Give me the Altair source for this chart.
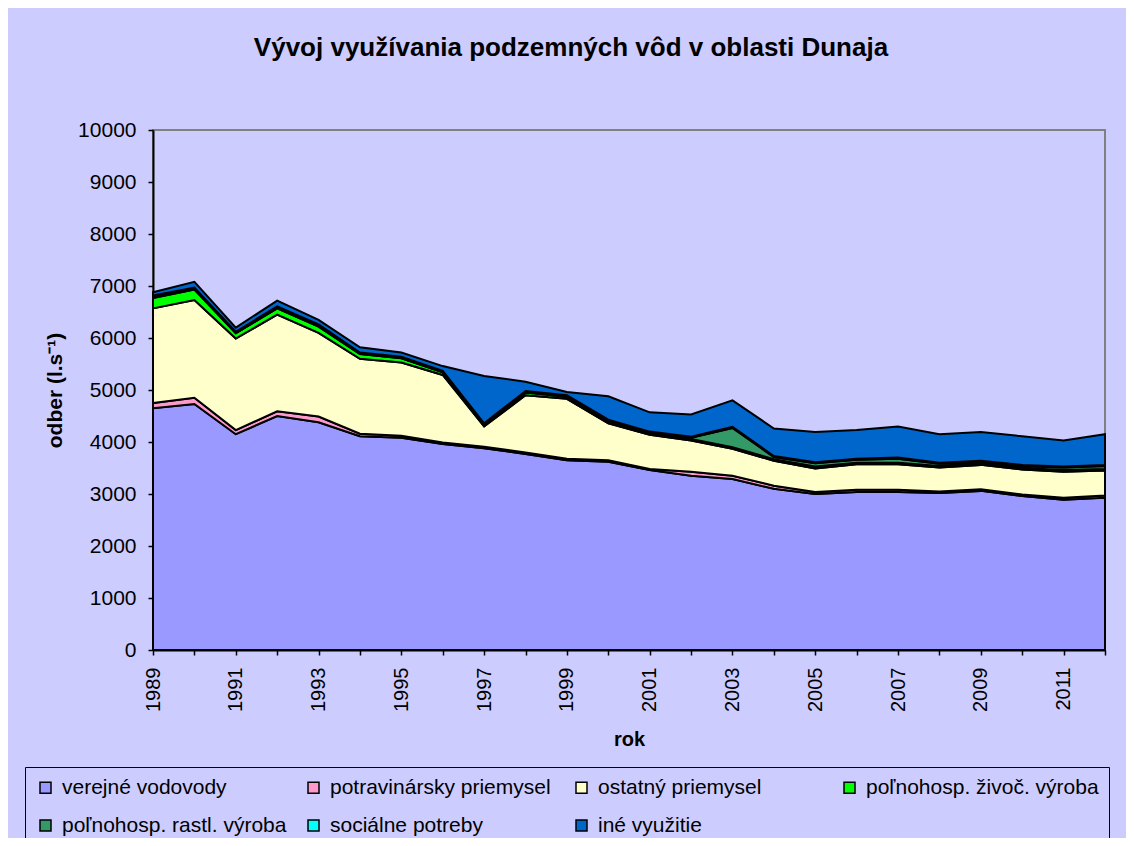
import altair as alt
import pandas as pd

years = list(range(1989, 2013))

series_names = [
    "verejné vodovody",
    "potravinársky priemysel",
    "ostatný priemysel",
    "poľnohosp. živoč. výroba",
    "poľnohosp. rastl. výroba",
    "sociálne potreby",
    "iné využitie",
]
series_colors = ["#9999FF", "#FF99CC", "#FFFFCC", "#00FF00", "#339966", "#00FFFF", "#0066CC"]

verejne_vodovody = [4650, 4730, 4150, 4500, 4380, 4110, 4080, 3960, 3880, 3770, 3650, 3620,
                    3460, 3350, 3290, 3100, 3000, 3040, 3040, 3020, 3060, 2960, 2890, 2930]
potravinarsky = [100, 120, 80, 90, 110, 50, 40, 30, 30, 30, 30, 30,
                 20, 80, 60, 60, 40, 40, 40, 30, 30, 30, 40, 40]
ostatny = [1820, 1880, 1760, 1860, 1610, 1440, 1410, 1300, 390, 1100, 1150, 710,
           660, 600, 520, 480, 450, 490, 490, 460, 470, 480, 500, 480]
zivocisna = [200, 200, 100, 120, 120, 90, 80, 50, 30, 50, 40, 40,
             30, 30, 30, 30, 40, 30, 30, 30, 30, 30, 30, 30]
rastlinna = [30, 20, 10, 20, 20, 10, 10, 10, 10, 10, 10, 10,
             10, 20, 370, 40, 60, 60, 80, 40, 30, 40, 50, 60]
socialne = [20, 20, 20, 20, 20, 20, 20, 20, 20, 20, 20, 20,
            20, 20, 20, 20, 20, 20, 20, 20, 20, 20, 20, 20]
ine = [60, 110, 80, 110, 90, 100, 80, 90, 910, 180, 60, 450,
       370, 430, 510, 530, 580, 550, 600, 550, 550, 550, 500, 590]

all_series = [verejne_vodovody, potravinarsky, ostatny, zivocisna, rastlinna, socialne, ine]

rows = []
for idx, (name, vals) in enumerate(zip(series_names, all_series)):
    for yr, v in zip(years, vals):
        rows.append({"rok": yr, "odber": v, "typ": name, "poradie": idx})
df = pd.DataFrame(rows)

FONT = "Liberation Sans"

chart = alt.Chart(df).mark_area(
    stroke="black", strokeWidth=2, opacity=1, fillOpacity=1
).encode(
    x=alt.X("rok:Q",
            scale=alt.Scale(domain=[1989, 2012], nice=False, zero=False),
            axis=alt.Axis(title="rok", values=years,
                          labelExpr="datum.value % 2 == 1 ? datum.value : ''",
                          labelAngle=270, labelFontSize=20, labelPadding=12,
                          titleFontSize=20, titleFontWeight="bold", titlePadding=18)),
    y=alt.Y("odber:Q", stack="zero",
            scale=alt.Scale(domain=[0, 10000], nice=False),
            axis=alt.Axis(title="odber (l.s⁻¹)", values=list(range(0, 10001, 1000)),
                          format="d",
                          labelFontSize=21, labelPadding=12,
                          titleFontSize=21, titleFontWeight="bold", titlePadding=12)),
    color=alt.Color("typ:N",
                    scale=alt.Scale(domain=series_names, range=series_colors),
                    legend=alt.Legend(title=None, orient="none", legendX=-128, legendY=637,
                                      direction="horizontal", columns=4, gridAlign="all",
                                      columnPadding=8, rowPadding=16,
                                      symbolType="square", symbolSize=121,
                                      symbolStrokeColor="black", symbolStrokeWidth=1.5,
                                      symbolOffset=0,
                                      labelFontSize=21, labelLimit=400, labelOffset=6,
                                      labelFont=FONT, labelColor="black",
                                      strokeColor="black", padding=10,
                                      fillColor="#CCCCFF")),
    order=alt.Order("poradie:Q", sort="ascending"),
).properties(
    width=952,
    height=520,
    title=alt.TitleParams("Vývoj využívania podzemných vôd v oblasti Dunaja",
                          fontSize=26, fontWeight="bold", font=FONT, color="black",
                          anchor="middle", dx=-58, offset=58),
    autosize=alt.AutoSizeParams(type="none"),
    padding={"left": 145, "top": 122, "right": 21, "bottom": 188},
    background="#CCCCFF",
).configure_view(
    stroke="#808080", strokeWidth=2, fill="#CCCCFF"
).configure_axis(
    grid=False, domainColor="black", domainWidth=2, tickColor="black", tickWidth=1.5,
    tickSize=5, labelColor="black", titleColor="black", labelFont=FONT, titleFont=FONT
)

chart.save("out.html", embed_options={"renderer": "svg", "actions": False})
